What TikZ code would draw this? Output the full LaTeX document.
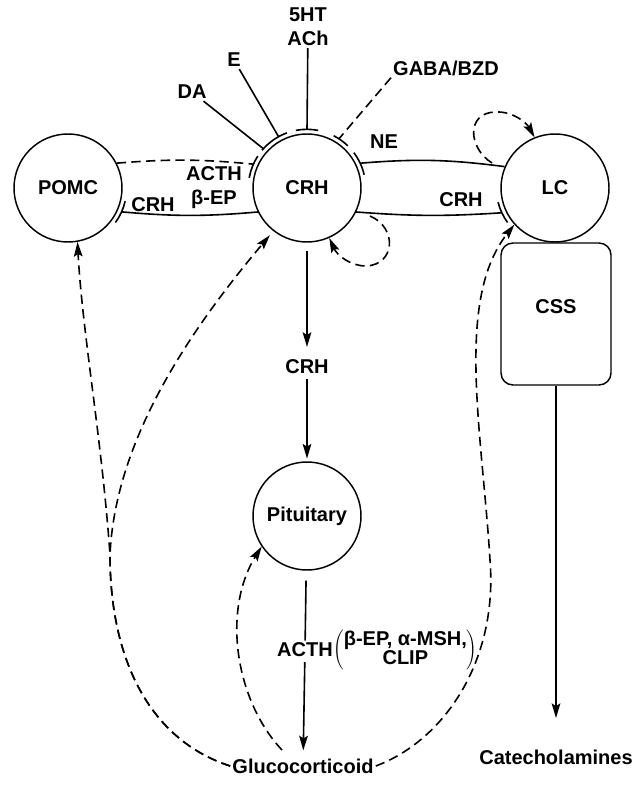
\documentclass[tikz,border=0pt]{standalone}
\usepackage{fontspec}
\setmainfont{Liberation Sans}
\usetikzlibrary{arrows.meta,calc}
\begin{document}
\begin{tikzpicture}[x=0.75pt,y=-0.75pt,
  every node/.style={font=\bfseries\fontsize{15}{18}\selectfont},
  circ/.style={draw,circle,minimum size=81pt,inner sep=0pt,line width=1.1pt},
  lbl/.style={inner sep=1.5pt},
  conn/.style={line width=1.2pt},
  dsh/.style={conn,dash pattern=on 7pt off 4pt},
  arr/.style={-{Stealth[length=11pt,width=6.5pt,inset=2pt]}},
  bar/.style={line width=1.2pt}]
\useasboundingbox (0,0) rectangle (637,787);
% main nodes
\node[circ] (pomc) at (68,188) {POMC};
\node[circ] (crh) at (307,188) {CRH};
\node[circ] (lc) at (555,188) {LC};
\node[circ] (pit) at (307,516) {Pituitary};
\node[draw,rounded corners=9pt,minimum width=82.5pt,minimum height=106.5pt,line width=1.1pt] (css) at (556,314) {};
\node[lbl] (csslab) at (556,307) {CSS};
% labels
\node[lbl,align=center] (ht) at (308,27) {5HT\\ACh};
\node[lbl] (e) at (234,60) {E};
\node[lbl] (da) at (192,92) {DA};
\node[lbl] (gaba) at (446,68) {GABA/BZD};
\node[lbl] (ne) at (384,142) {NE};
\node[lbl,align=center] (acthbep) at (214,188) {ACTH\\β-EP};
\node[lbl] (crhpomc) at (153,205) {CRH};
\node[lbl] (crhlc) at (461,200) {CRH};
\node[lbl] (crhmid) at (307,367) {CRH};
\node[lbl] (acth) at (305,650) {ACTH};
\node[lbl,anchor=west,inner sep=0pt] (paren) at (333,650) {$\left(\vcenter{\hbox{\renewcommand\arraystretch{0.72}\begin{tabular}{@{}c@{}}β-EP, α-MSH,\\CLIP\end{tabular}}}\right)$};
\node[lbl] (gluc) at (303,766) {Glucocorticoid};
\node[lbl] (cat) at (556,757) {Catecholamines};
% bar end points
\coordinate (crhACTH) at ([shift={(156:44pt)}]crh.center);
\coordinate (crhDA) at ([shift={(138:44pt)}]crh.center);
\coordinate (crhE) at ([shift={(119:44pt)}]crh.center);
\coordinate (crhHT) at ([shift={(90:44pt)}]crh.center);
\coordinate (crhGABA) at ([shift={(57:44pt)}]crh.center);
\coordinate (crhNE) at ([shift={(25:44pt)}]crh.center);
\coordinate (pomcCRH) at ([shift={(-24:44pt)}]pomc.center);
\coordinate (lcCRH) at ([shift={(205:44pt)}]lc.center);
% bars
\draw[bar] ([shift={(170:44pt)}]crh.center) arc[start angle=170,end angle=147,radius=44pt];
\draw[bar] ([shift={(140:44pt)}]crh.center) arc[start angle=140,end angle=110,radius=44pt];
\draw[bar] ([shift={(101:44pt)}]crh.center) arc[start angle=101,end angle=79,radius=44pt];
\draw[bar] ([shift={(63:44pt)}]crh.center) arc[start angle=63,end angle=46,radius=44pt];
\draw[bar] ([shift={(37:44pt)}]crh.center) arc[start angle=37,end angle=13,radius=44pt];
\draw[bar] ([shift={(-13:44pt)}]pomc.center) arc[start angle=-13,end angle=-36,radius=44pt];
\draw[bar] ([shift={(194:44pt)}]lc.center) arc[start angle=194,end angle=216,radius=44pt];
% inputs to CRH
\draw[conn] (da) -- (crhDA);
\draw[conn] (e) -- (crhE);
\draw[conn] (ht) -- (crhHT);
\draw[dsh] (gaba.south west) -- (crhGABA);
% horizontal connections
\draw[dsh] (pomc.27) to[bend left=5] (crhACTH);
\draw[conn] (crh.206) to[bend left=5] (pomcCRH);
\draw[conn] (crh.-26) to[bend right=4] (lcCRH);
\draw[conn] (crhNE) to[bend left=6] (lc.157);
% self loops
\coordinate (crhloop) at (370,216);
\draw[dsh,arr] (crhloop) .. controls (398,228) and (395,265) .. (366,266) .. controls (350,266) and (337,255) .. (crh.-66);
\coordinate (lcloop) at (492,163);
\draw[dsh,arr] (lcloop) .. controls (468,148) and (466,113) .. (495,112) .. controls (512,111) and (526,122) .. (lc.112);
% vertical chain
\draw[conn,arr,shorten <=6pt,shorten >=8pt] (crh) -- (crhmid);
\draw[conn,arr,shorten <=2pt,shorten >=2pt] (crhmid) -- (pit);
\draw[conn,shorten <=7.5pt] (pit) -- (acth);
\draw[conn,arr,shorten <=2pt,shorten >=4.5pt] (acth) -- (gluc);
\draw[conn,arr,shorten >=22pt] (css.south) -- (cat.north);
% glucocorticoid feedback
\draw[dsh,arr] (gluc.west) .. controls (150,740) and (110,660) .. (110,555) .. controls (102,440) and (82,330) .. (pomc.-80);
\draw[dsh,arr,shorten >=4pt] (gluc.west) .. controls (150,740) and (110,660) .. (110,555) .. controls (115,440) and (190,330) .. (crh.232);
\coordinate (glucpit) at (282,750);
\draw[dsh,arr] (glucpit) .. controls (235,700) and (222,610) .. (pit.214);
\draw[dsh,arr] (gluc.east) .. controls (445,740) and (498,660) .. (490,560) .. controls (482,430) and (455,300) .. (lc.222);
\end{tikzpicture}
\end{document}
